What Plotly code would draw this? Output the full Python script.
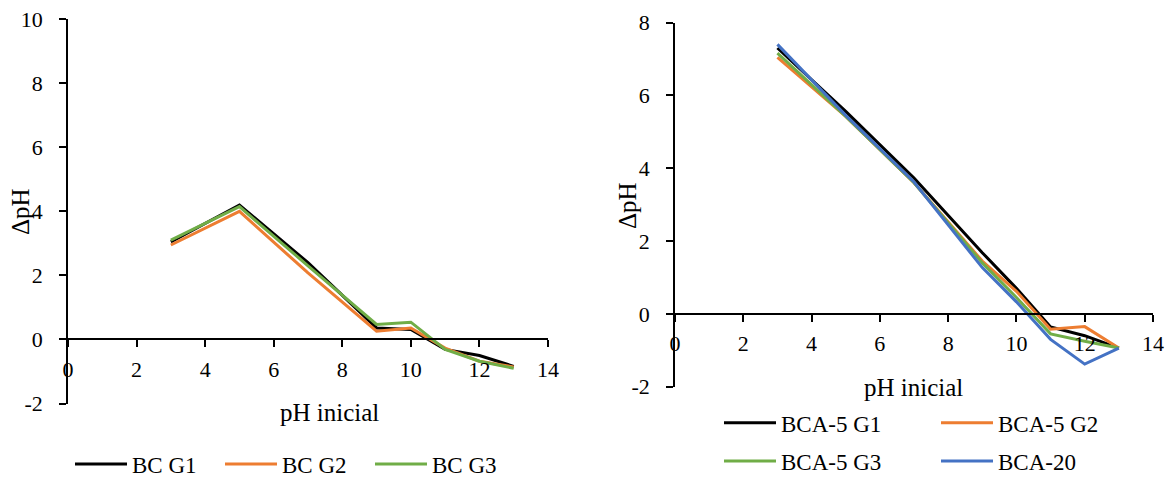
import plotly.graph_objects as go

W, H = 1173, 480

# ---------------- data ----------------
ph_inicial = [3, 5, 7, 9, 10, 11, 12, 13]

bc_g1 = [3.05, 4.20, 2.40, 0.36, 0.31, -0.31, -0.50, -0.84]
bc_g2 = [2.95, 4.00, 2.08, 0.26, 0.36, -0.27, -0.68, -0.86]
bc_g3 = [3.10, 4.15, 2.30, 0.47, 0.54, -0.31, -0.68, -0.90]

bca5_g1 = [7.30, 5.56, 3.73, 1.68, 0.70, -0.36, -0.60, -0.94]
bca5_g2 = [7.04, 5.42, 3.60, 1.45, 0.62, -0.42, -0.35, -0.94]
bca5_g3 = [7.16, 5.42, 3.60, 1.40, 0.45, -0.55, -0.75, -0.94]
bca20 = [7.40, 5.45, 3.62, 1.27, 0.33, -0.70, -1.38, -0.94]

left_names = ["BC G1", "BC G2", "BC G3"]
right_names = ["BCA-5 G1", "BCA-5 G2", "BCA-5 G3", "BCA-20"]

x_ticks = [0, 2, 4, 6, 8, 10, 12, 14]
left_y_ticks = [-2, 0, 2, 4, 6, 8, 10]
right_y_ticks = [-2, 0, 2, 4, 6, 8]

x_title = "pH inicial"
y_title = "ΔpH"

colors = ["#000000", "#ED7D31", "#70AD47", "#4472C4"]

FONT = "Liberation Serif, Times New Roman, serif"
TICK = 22
TITLE = 25
LEG = 23

# ---------------- layout geometry (pixels) ----------------
def fx(px):
    return px / W

def fy(py):
    return 1 - py / H

left_xdom = [fx(68), fx(548)]
left_ydom = [fy(403.5), fy(19.3)]
right_xdom = [fx(675), fx(1153)]
right_ydom = [fy(386.7), fy(22.5)]

left_yrange = [-2, 10]
right_yrange = [-2, 8]

def zero_pos(dom, rng):
    return dom[0] + (0 - rng[0]) / (rng[1] - rng[0]) * (dom[1] - dom[0])

def labels(vals):
    return [str(v) for v in vals]  # plain hyphen-minus as in the original

fig = go.Figure()

left_series = [bc_g1, bc_g2, bc_g3]
for name, ys, c in zip(left_names, left_series, colors):
    fig.add_trace(go.Scatter(x=ph_inicial, y=ys, name=name, mode="lines",
                             line=dict(color=c, width=3),
                             xaxis="x", yaxis="y", legend="legend"))

right_series = [bca5_g1, bca5_g2, bca5_g3, bca20]
right_legends = ["legend2", "legend2", "legend3", "legend3"]
for name, ys, c, lg in zip(right_names, right_series, colors, right_legends):
    fig.add_trace(go.Scatter(x=ph_inicial, y=ys, name=name, mode="lines",
                             line=dict(color=c, width=3),
                             xaxis="x2", yaxis="y2", legend=lg))

xcommon = dict(range=[0, 14], tickvals=x_ticks, ticktext=labels(x_ticks),
               showgrid=False, zeroline=False,
               showline=True, linecolor="black", linewidth=1.6,
               ticks="outside", ticklen=7, tickwidth=1.6, tickcolor="black",
               tickfont=dict(family=FONT, size=TICK, color="black"),
               ticklabelstandoff=3, anchor="free", fixedrange=True)
ycommon = dict(showgrid=False, zeroline=False,
               showline=True, linecolor="black", linewidth=1.6,
               ticks="outside", ticklen=7, tickwidth=1.6, tickcolor="black",
               tickfont=dict(family=FONT, size=TICK, color="black"),
               ticklabelstandoff=12, fixedrange=True)

leg_font = dict(family=FONT, size=LEG, color="black")

fig.update_layout(
    width=W, height=H, autosize=False,
    margin=dict(l=0, r=0, t=0, b=0, autoexpand=False),
    paper_bgcolor="white", plot_bgcolor="white",
    font=dict(family=FONT, color="black"),
    xaxis=dict(xcommon, domain=left_xdom,
               position=zero_pos(left_ydom, left_yrange)),
    yaxis=dict(ycommon, domain=left_ydom, range=left_yrange,
               tickvals=left_y_ticks, ticktext=labels(left_y_ticks), anchor="x"),
    xaxis2=dict(xcommon, domain=right_xdom,
                position=zero_pos(right_ydom, right_yrange)),
    yaxis2=dict(ycommon, domain=right_ydom, range=right_yrange,
                tickvals=right_y_ticks, ticktext=labels(right_y_ticks), anchor="x2"),
    legend=dict(orientation="h", x=fx(70), y=fy(464), xanchor="left", yanchor="middle",
                font=leg_font, itemwidth=52, entrywidth=83,
                bgcolor="rgba(0,0,0,0)"),
    legend2=dict(orientation="h", x=fx(719), y=fy(422.7), xanchor="left", yanchor="middle",
                 font=leg_font, itemwidth=52, entrywidth=150,
                 bgcolor="rgba(0,0,0,0)"),
    legend3=dict(orientation="h", x=fx(719), y=fy(461), xanchor="left", yanchor="middle",
                 font=leg_font, itemwidth=52, entrywidth=150,
                 bgcolor="rgba(0,0,0,0)"),
    annotations=[
        dict(text=y_title, x=fx(20), y=fy(212), xref="paper", yref="paper",
             showarrow=False, textangle=-90, xanchor="center", yanchor="middle",
             font=dict(family=FONT, size=TITLE, color="black")),
        dict(text=x_title, x=fx(329), y=fy(412), xref="paper", yref="paper",
             showarrow=False, xanchor="center", yanchor="middle",
             font=dict(family=FONT, size=TITLE, color="black")),
        dict(text=y_title, x=fx(627), y=fy(206), xref="paper", yref="paper",
             showarrow=False, textangle=-90, xanchor="center", yanchor="middle",
             font=dict(family=FONT, size=TITLE, color="black")),
        dict(text=x_title, x=fx(913), y=fy(387), xref="paper", yref="paper",
             showarrow=False, xanchor="center", yanchor="middle",
             font=dict(family=FONT, size=TITLE, color="black")),
    ],
)

# remove the browser's default 8px page margin so the figure sits at (0, 0)
fig.write_html("out.html", config={"displayModeBar": False},
               post_script="document.body.style.margin='0';document.body.style.overflow='hidden';")
